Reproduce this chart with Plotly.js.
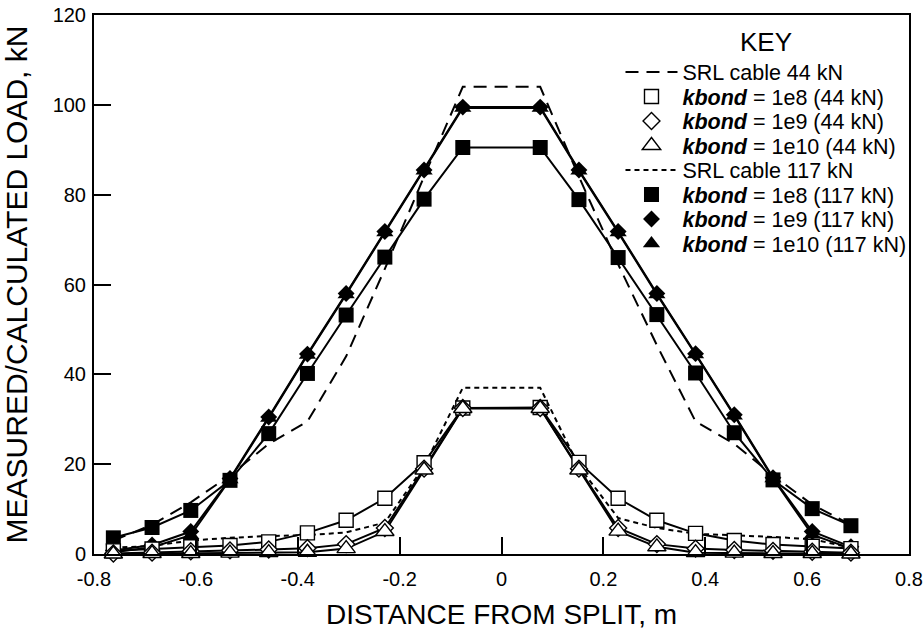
<!DOCTYPE html>
<html>
<head>
<meta charset="utf-8">
<script src="https://cdn.plot.ly/plotly-3.0.1.min.js"></script>
<style>
  html, body { margin: 0; padding: 0; background: #fff; }
  #chart { width: 924px; height: 630px; }
</style>
</head>
<body>
<div id="chart"></div>
<script>
// Distance from split (m)
const distance = [-0.762, -0.686, -0.610, -0.533, -0.457, -0.381, -0.305, -0.229, -0.152, -0.076,
                   0.076,  0.152,  0.229,  0.305,  0.381,  0.457,  0.533,  0.610,  0.686];

// SRL cable measurements
const srl44  = [3.0, 6.5, 11.5, 17.5, 24.5, 29.5, 44.0, 63.5, 84.0, 104.0, 104.0, 84.0, 64.5, 46.5, 29.5, 24.5, 17.5, 11.0, 6.5];
const srl117 = [1.4, 1.8, 3.0, 3.6, 4.0, 4.2, 4.8, 7.0, 19.5, 37.0, 37.0, 19.5, 8.0, 5.8, 4.5, 4.2, 3.8, 3.3, 1.4];

// Calculated, 44 kN
const k8_44  = [0.7, 1.1, 1.6, 1.9, 2.7, 4.7, 7.5, 12.4, 20.3, 32.5, 32.6, 20.4, 12.4, 7.5, 4.6, 3.0, 2.1, 1.7, 1.2];
const k9_44  = [0.1, 0.3, 0.6, 0.8, 1.0, 1.3, 2.2, 5.8, 19.0, 32.5, 32.5, 19.0, 5.8, 2.2, 1.2, 0.9, 0.7, 0.5, 0.3];
const k10_44 = [0.0, 0.1, 0.1, 0.2, 0.3, 0.4, 1.2, 5.0, 18.7, 32.4, 32.4, 18.7, 5.1, 1.6, 0.3, 0.2, 0.1, 0.1, 0.0];

// Calculated, 117 kN
const k8_117  = [3.6, 5.9, 9.7, 16.4, 26.8, 40.2, 53.2, 66.1, 79.0, 90.5, 90.5, 78.9, 66.0, 53.3, 40.3, 27.0, 16.5, 10.1, 6.3];
const k9_117  = [0.8, 2.0, 5.0, 16.8, 30.5, 44.5, 58.0, 71.8, 85.5, 99.5, 99.5, 85.5, 71.8, 58.0, 44.6, 31.0, 17.0, 5.0, 1.6];
const k10_117 = [0.4, 1.5, 4.2, 16.6, 30.3, 44.3, 57.8, 71.6, 85.3, 99.3, 99.3, 85.3, 71.6, 57.8, 44.4, 30.8, 16.8, 4.3, 1.2];

const names = {
  srl44: 'SRL cable 44 kN',
  k8_44: '<b><i>kbond</i></b> = 1e8 (44 kN)',
  k9_44: '<b><i>kbond</i></b> = 1e9 (44 kN)',
  k10_44: '<b><i>kbond</i></b> = 1e10 (44 kN)',
  srl117: 'SRL cable 117 kN',
  k8_117: '<b><i>kbond</i></b> = 1e8 (117 kN)',
  k9_117: '<b><i>kbond</i></b> = 1e9 (117 kN)',
  k10_117: '<b><i>kbond</i></b> = 1e10 (117 kN)'
};

const FONT = '"Liberation Sans", Arial, Helvetica, sans-serif';

function solidLine(y) {
  return { x: distance, y: y, mode: 'lines', type: 'scatter', showlegend: false,
           hoverinfo: 'skip', line: { color: '#000', width: 2 } };
}
function markers(y, name, symbol, size, rank) {
  const filled = symbol.indexOf('open') < 0;
  return { x: distance, y: y, mode: 'markers', type: 'scatter', name: name, legendrank: rank,
           cliponaxis: false,
           marker: { symbol: filled ? symbol : symbol.replace('-open', ''), size: size,
                     color: filled ? '#000' : '#fff',
                     line: { color: '#000', width: filled ? 0 : 1.4 } } };
}

const traces = [
  solidLine(k8_117), solidLine(k9_117), solidLine(k10_117),
  solidLine(k8_44), solidLine(k9_44), solidLine(k10_44),
  { x: distance, y: srl44, mode: 'lines', type: 'scatter', name: names.srl44, legendrank: 1,
    line: { color: '#000', width: 2, dash: '13px,8px' } },
  { x: distance, y: srl117, mode: 'lines', type: 'scatter', name: names.srl117, legendrank: 5,
    line: { color: '#000', width: 2, dash: '5px,4px' } },
  markers(k8_117, names.k8_117, 'square', 15, 6),
  markers(k9_117, names.k9_117, 'diamond', 13, 7),
  markers(k10_117, names.k10_117, 'triangle-up', 15, 8),
  markers(k8_44, names.k8_44, 'square-open', 14, 2),
  markers(k9_44, names.k9_44, 'diamond-open', 13, 3),
  markers(k10_44, names.k10_44, 'triangle-up-open', 16, 4)
];

const axisCommon = {
  showline: true, mirror: true, linecolor: '#000', linewidth: 2,
  ticks: 'inside', ticklen: 17, tickwidth: 2, tickcolor: '#000',
  showgrid: false, zeroline: false,
  tickfont: { family: FONT, size: 20, color: '#000' }
};

const layout = {
  width: 924, height: 630,
  margin: { l: 94, r: 15, t: 15, b: 76 },
  paper_bgcolor: '#fff', plot_bgcolor: '#fff',
  font: { family: FONT, color: '#000' },
  xaxis: Object.assign({}, axisCommon, {
    range: [-0.8, 0.8], tickvals: [-0.8, -0.6, -0.4, -0.2, 0, 0.2, 0.4, 0.6, 0.8],
    ticktext: ['-0.8', '-0.6', '-0.4', '-0.2', '0', '0.2', '0.4', '0.6', '0.8'],
    ticklabelstandoff: 6,
    title: { text: 'DISTANCE FROM SPLIT, m', font: { family: FONT, size: 28, color: '#000' } }
  }),
  yaxis: Object.assign({}, axisCommon, {
    range: [0, 120], tickvals: [0, 20, 40, 60, 80, 100, 120],
    ticklabelstandoff: 2,
    title: { text: 'MEASURED/CALCULATED LOAD, kN', font: { family: FONT, size: 30, color: '#000' } }
  }),
  showlegend: true,
  legend: {
    x: 0.646, y: 0.995, xanchor: 'left', yanchor: 'top',
    bgcolor: 'rgba(0,0,0,0)', borderwidth: 0,
    font: { family: FONT, size: 21.5, color: '#000' },
    title: { text: 'KEY', side: 'top center', font: { family: FONT, size: 26, color: '#000' } },
    itemwidth: 52, traceorder: 'normal'
  }
};

Plotly.newPlot('chart', traces, layout, { displayModeBar: false, staticPlot: true }).then(function (gd) {
  // tighten legend row spacing to match the reference key
  const items = gd.querySelectorAll('.legend .traces');
  if (!items.length) return;
  const parse = function (el) {
    const m = /translate\(([-\d.]+)[ ,]+([-\d.]+)\)/.exec(el.getAttribute('transform') || '');
    return m ? [parseFloat(m[1]), parseFloat(m[2])] : [0, 0];
  };
  const first = parse(items[0]);
  items.forEach(function (el, i) {
    const p = parse(el);
    el.setAttribute('transform', 'translate(' + p[0] + ',' + (first[1] + i * 24.5) + ')');
  });
});
</script>
</body>
</html>
